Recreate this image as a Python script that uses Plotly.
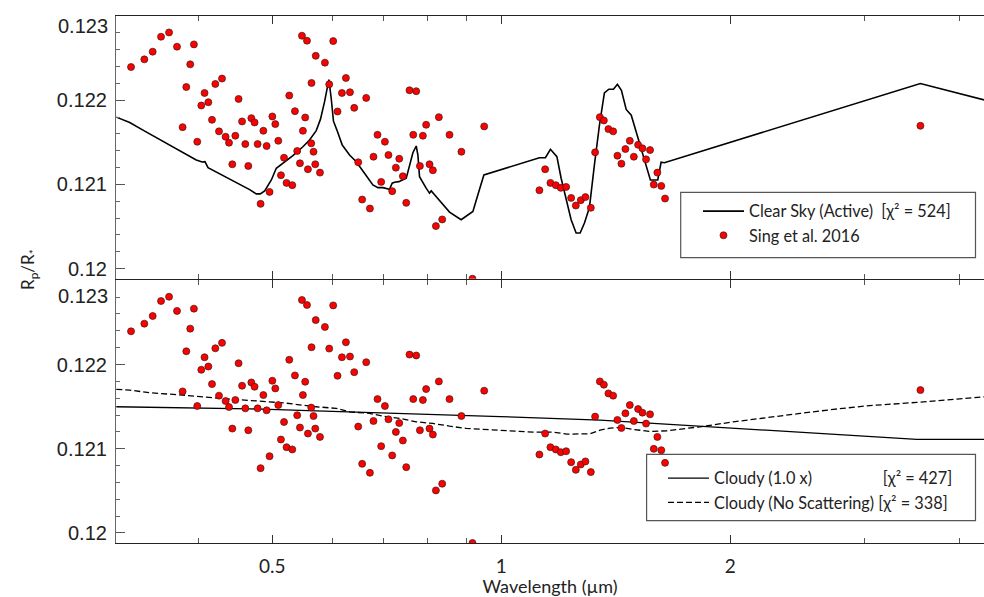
import math
import plotly.graph_objects as go

# ---------------- data ----------------
# Sing et al. 2016 transmission spectrum (wavelength in micron, Rp/R*)
sing_wl = [0.3261, 0.3395, 0.3482, 0.3571, 0.3659, 0.3748, 0.3945, 0.3901, 0.3855, 0.3812,
           0.3985, 0.4034, 0.4074, 0.4121, 0.4209, 0.4295, 0.4167, 0.4256, 0.4342, 0.4387,
           0.4472, 0.4516, 0.4564, 0.4431, 0.4609, 0.4651, 0.4694, 0.4740, 0.4784, 0.4868,
           0.4916, 0.5002, 0.5047, 0.5093, 0.4827, 0.4960, 0.5134, 0.5182, 0.5222, 0.5313,
           0.5265, 0.5356, 0.5471, 0.5555, 0.5632, 0.5525, 0.5487, 0.5393, 0.5438, 0.5571,
           0.5627, 0.5666, 0.5696, 0.5704, 0.5778, 0.5865, 0.6014, 0.5942, 0.6250, 0.6175,
           0.6327, 0.6093, 0.6409, 0.6646, 0.6487, 0.6565, 0.6721, 0.6877, 0.7033, 0.6794,
           0.7109, 0.6954, 0.7270, 0.7190, 0.7345, 0.7426, 0.7502, 0.7577, 0.7732, 0.7663,
           0.7890, 0.7819, 0.7968, 0.8050, 0.8132, 0.8281, 0.8552, 0.8866, 0.8365, 0.8207,
           0.9499, 0.9168,
           1.1227, 1.1424, 1.1608, 1.1799, 1.1978, 1.2173, 1.2359, 1.2536, 1.2726, 1.2905,
           1.3118, 1.3289, 1.3482, 1.3646, 1.3836, 1.4035, 1.4217, 1.4391, 1.4566, 1.4761,
           1.4942, 1.5136, 1.5336, 1.5505, 1.5694, 1.5872, 1.6045, 1.6238, 1.6423, 3.558]
sing_rr = [0.122394, 0.122485, 0.122576, 0.122754, 0.122805, 0.122636, 0.122663, 0.122426, 0.122157, 0.121680,
           0.121507, 0.121937, 0.122086, 0.121976, 0.122193, 0.122257, 0.121767, 0.121630, 0.121566, 0.121495,
           0.121578, 0.122015, 0.121748, 0.121239, 0.121479, 0.121219, 0.121787, 0.121736, 0.121479, 0.121637,
           0.121456, 0.121807, 0.121716, 0.121518, 0.120769, 0.120911, 0.121109, 0.121317, 0.121018, 0.120991,
           0.122056, 0.121870, 0.122766, 0.122707, 0.122205, 0.121795, 0.121637, 0.121397, 0.121251, 0.121180,
           0.121488, 0.121388, 0.121239, 0.122527, 0.121140, 0.122446, 0.122702, 0.122189, 0.122264, 0.122086,
           0.122095, 0.121866, 0.121909, 0.122027, 0.121263, 0.120820, 0.120714, 0.121589, 0.121507, 0.121329,
           0.121349, 0.121030, 0.121199, 0.120920, 0.121305, 0.121097, 0.120781, 0.122118, 0.122107, 0.121589,
           0.121578, 0.121219, 0.121708, 0.121239, 0.121168, 0.121799, 0.121589, 0.121388, 0.120584, 0.120505,
           0.121689, 0.119880,
           0.120931, 0.121180, 0.121018, 0.120991, 0.120959, 0.120970, 0.120840, 0.120749, 0.120813, 0.120849,
           0.120722, 0.121381, 0.121799, 0.121760, 0.121657, 0.121630, 0.121341, 0.121246, 0.121420, 0.121518,
           0.121329, 0.121471, 0.121428, 0.121298, 0.121408, 0.120998, 0.121140, 0.120982, 0.120832, 0.121696]

# Clear sky (active) model
clear_wl = [0.3119, 0.3248, 0.3381, 0.3521, 0.3666, 0.3816, 0.3973, 0.4045, 0.4079, 0.4117,
            0.4180, 0.4351, 0.4530, 0.4670, 0.4764, 0.4822, 0.4887, 0.4987, 0.5062, 0.5166,
            0.5323, 0.5487, 0.5598, 0.5713, 0.5787, 0.5858, 0.5936, 0.5978, 0.6019, 0.6082,
            0.6181, 0.6319, 0.6449, 0.6612, 0.6781, 0.6886, 0.6992, 0.7131, 0.7190, 0.7240,
            0.7336, 0.7502, 0.7592, 0.7655, 0.7732, 0.7772, 0.7810, 0.7890, 0.7968, 0.8050,
            0.8091, 0.8174, 0.8383, 0.8552, 0.8858, 0.9180, 0.9319, 0.9490, 1.1227, 1.1434,
            1.1608, 1.1730, 1.1837, 1.1990, 1.2173, 1.2359, 1.2547, 1.2700, 1.2867, 1.3062,
            1.3261, 1.3465, 1.3668, 1.3852, 1.4048, 1.4217, 1.4391, 1.4600, 1.4826, 1.5053,
            1.5276, 1.5505, 1.5710, 1.6064, 1.6228, 1.6388, 3.557, 4.5]
clear_rr = [0.121799, 0.121736, 0.121645, 0.121554, 0.121467, 0.121381, 0.121290, 0.121266, 0.121270, 0.121199,
            0.121168, 0.121085, 0.120998, 0.120938, 0.120888, 0.120888, 0.120923, 0.121053, 0.121192, 0.121254,
            0.121341, 0.121447, 0.121527, 0.121639, 0.121775, 0.121980, 0.122245, 0.122020, 0.121751, 0.121645,
            0.121467, 0.121349, 0.121270, 0.121133, 0.120994, 0.120962, 0.120962, 0.120943, 0.121014, 0.121026,
            0.121033, 0.121073, 0.121251, 0.121376, 0.121456, 0.121349, 0.121092, 0.121014, 0.120955, 0.120896,
            0.120923, 0.120876, 0.120757, 0.120671, 0.120580, 0.120678, 0.120876, 0.121112, 0.121317, 0.121317,
            0.121417, 0.121376, 0.121329, 0.121073, 0.120817, 0.120580, 0.120422, 0.120422, 0.120541, 0.120725,
            0.121231, 0.121704, 0.122086, 0.122130, 0.122130, 0.122189, 0.122118, 0.121890, 0.121822, 0.121625,
            0.121428, 0.121231, 0.121053, 0.121053, 0.121263, 0.121258, 0.122198, 0.121961]

# Cloudy (1.0 x) model
cloudy_wl = [0.3119, 0.3816, 0.4670, 0.5713, 0.6992, 0.8552, 0.997, 1.349, 1.826, 2.471, 3.518, 4.5]
cloudy_rr = [0.121498, 0.121486, 0.121474, 0.121450, 0.121426, 0.121407, 0.121381, 0.121340,
             0.121268, 0.121194, 0.121110, 0.121110]

# Cloudy (no scattering) model
noscat_wl = [0.3119, 0.3248, 0.3450, 0.3816, 0.4221, 0.4670, 0.5166, 0.5713, 0.6069, 0.6319,
             0.6712, 0.6992, 0.7354, 0.7732, 0.8132, 0.8552, 0.8995, 0.9462, 0.997, 1.1026,
             1.1713, 1.2199, 1.3092, 1.349, 1.3906, 1.4332, 1.4923, 1.5694, 1.6508, 1.826,
             2.0197, 2.2340, 2.471, 2.7335, 3.0234, 3.518, 3.890, 4.313]
noscat_rr = [0.121704, 0.121696, 0.121664, 0.121637, 0.121601, 0.121577, 0.121545, 0.121498, 0.121479, 0.121438,
             0.121419, 0.121387, 0.121360, 0.121319, 0.121300, 0.121268, 0.121241, 0.121229, 0.121221, 0.121197,
             0.121197, 0.121173, 0.121177, 0.121221, 0.121245, 0.121253, 0.121229, 0.121205, 0.121213, 0.121260,
             0.121319, 0.121372, 0.121419, 0.121467, 0.121509, 0.121550, 0.121586, 0.121616]

x_ticks = [0.5, 1, 2]
x_ticktext = ["0.5", "1", "2"]
x_minor = [0.4, 0.6, 0.7, 0.8, 0.9, 3, 4]
y_ticks = [0.120, 0.121, 0.122, 0.123]
y_ticktext = ["0.12", "0.121", "0.122", ""]

name_clear = "Clear Sky (Active)\u00a0\u00a0[\u03c7\u00b2 = 524]"
name_sing = "Sing et al. 2016"
name_cloudy = "Cloudy (1.0 x)" + "\u00a0" * 17 + "[\u03c7\u00b2 = 427]"
name_noscat = "Cloudy (No Scattering) [\u03c7\u00b2 = 338]"

# ---------------- figure ----------------
W, H = 984, 597
ML, MR, MT, MB = 116, 0, 16, 54
PW, PH = W - ML - MR, H - MT - MB

def px2paper(px, py):
    return (px - ML) / PW, (H - MB - py) / PH

fig = go.Figure()

marker = dict(size=7, color="#ff0000", line=dict(color="#3a1a1a", width=0.7))

fig.add_trace(go.Scatter(x=clear_wl, y=clear_rr, mode="lines", name=name_clear,
                         line=dict(color="black", width=1.6), xaxis="x", yaxis="y",
                         legend="legend"))
fig.add_trace(go.Scatter(x=sing_wl, y=sing_rr, mode="markers", name=name_sing,
                         marker=marker, xaxis="x", yaxis="y", legend="legend"))

fig.add_trace(go.Scatter(x=cloudy_wl, y=cloudy_rr, mode="lines", name=name_cloudy,
                         line=dict(color="black", width=1.3), xaxis="x2", yaxis="y2",
                         legend="legend2"))
fig.add_trace(go.Scatter(x=noscat_wl, y=noscat_rr, mode="lines", name=name_noscat,
                         line=dict(color="black", width=1.3, dash="6px,3px"), xaxis="x2", yaxis="y2",
                         legend="legend2"))
fig.add_trace(go.Scatter(x=sing_wl, y=sing_rr, mode="markers", name=name_sing, showlegend=False,
                         marker=marker, xaxis="x2", yaxis="y2"))

xr = [math.log10(0.3116), math.log10(4.313)]
yr = [0.11988, 0.1230001]

xcommon = dict(type="log", range=xr, showline=True, linecolor="#222", linewidth=1.1,
               mirror="ticks", ticks="inside", ticklen=8, tickwidth=1.2, tickcolor="#333",
               tickvals=x_ticks, ticktext=x_ticktext, showgrid=False, zeroline=False,
               automargin=False, ticklabelstandoff=6,
               minor=dict(tickvals=x_minor, ticks="inside", ticklen=5, tickcolor="#555", tickwidth=1),
               tickfont=dict(family="Lato", size=19, color="#222"))
ycommon = dict(range=yr, showline=True, linecolor="#666", linewidth=1.2, ticks="inside",
               ticklen=9, tickwidth=1.2, tickcolor="#555", tickvals=y_ticks, ticktext=y_ticktext,
               showgrid=False, zeroline=False, ticklabelstandoff=4, automargin=False,
               minor=dict(dtick=0.0002, ticks="inside", ticklen=4, tickcolor="#666", tickwidth=1),
               tickfont=dict(family="Liberation Sans", size=20, color="#222"))

leg_font = dict(family="Lato", size=16.3, color="#222")
l1x, l1y = px2paper(698, 194)
l2x, l2y = px2paper(663, 461)

fig.update_layout(
    width=W, height=H,
    margin=dict(l=ML, r=MR, t=MT, b=MB, autoexpand=False),
    paper_bgcolor="white", plot_bgcolor="white",
    showlegend=True,
    xaxis=dict(xcommon, anchor="y", domain=[0, 1], showticklabels=False, matches="x2"),
    xaxis2=dict(xcommon, anchor="y2", domain=[0, 1],
                title=dict(text="Wavelength (\u00b5m)", font=dict(family="Lato", size=18, color="#222"),
                           standoff=1)),
    yaxis=dict(ycommon, anchor="x", domain=[0.5015, 1]),
    yaxis2=dict(ycommon, anchor="x2", domain=[0, 0.4985]),
    legend=dict(x=l1x, y=l1y, xanchor="left", yanchor="top", bgcolor="rgba(0,0,0,0)",
                borderwidth=0, font=leg_font, itemwidth=41, traceorder="normal"),
    legend2=dict(x=l2x, y=l2y, xanchor="left", yanchor="top", bgcolor="rgba(0,0,0,0)",
                 borderwidth=0, font=leg_font, itemwidth=41, traceorder="normal"),
)

# legend frames
for (x0, y0, x1, y1) in [(680.7, 192.3, 975.5, 257.7), (646.6, 454.3, 975.5, 520.7)]:
    a0, b0 = px2paper(x0, y1)
    a1, b1 = px2paper(x1, y0)
    fig.add_shape(type="rect", xref="paper", yref="paper", x0=a0, y0=b0, x1=a1, y1=b1,
                  line=dict(color="#555", width=1.2), fillcolor="white", layer="below")

# top tick labels 0.123 (drawn slightly below the frame edge as in the original)
for py in (25.7, 296):
    _, yy = px2paper(0, py)
    fig.add_annotation(text="0.123", xref="paper", yref="paper", x=0, y=yy, xanchor="right",
                       yanchor="middle", xshift=-6, showarrow=False,
                       font=dict(family="Liberation Sans", size=20, color="#222"))

_, yt = px2paper(0, 270)
fig.add_annotation(text="R<sub>p</sub>/R<sub>*</sub>", xref="paper", yref="paper",
                   x=(15 - ML) / PW, y=yt, textangle=-90, showarrow=False,
                   font=dict(family="Lato", size=17, color="#222"))

fig.write_html("out.html", config={"displayModeBar": False},
               post_script="document.body.style.margin='0';document.body.style.padding='0';")
